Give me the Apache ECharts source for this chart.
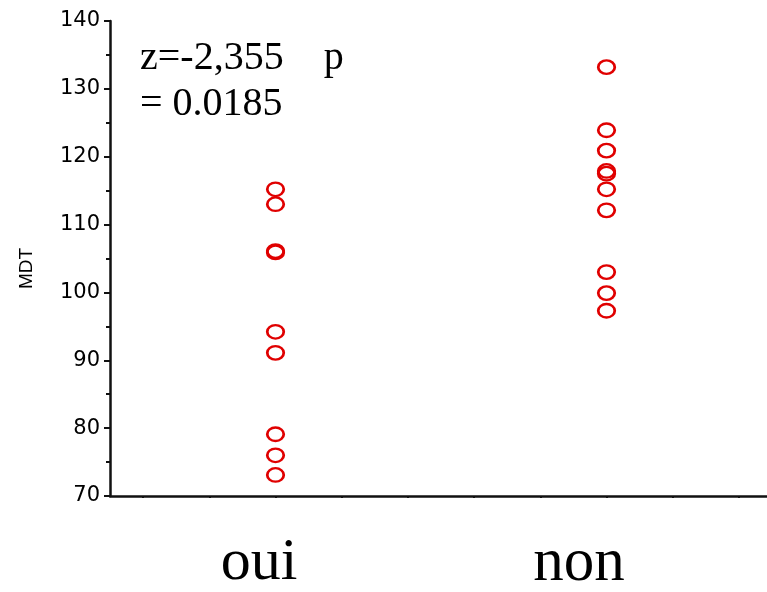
<!DOCTYPE html>
<html>
<head>
<meta charset="utf-8">
<script src="https://cdn.jsdelivr.net/npm/echarts@6/dist/echarts.min.js"></script>
<style>html,body{margin:0;padding:0;background:#fff;}#c{width:767px;height:592px;}</style>
</head>
<body>
<div id="c"></div>
<script>
// x axis slots (tick labels); groups sit in two of them
var xSlots = ['', '', 'oui', '', '', '', '', 'non', '', ''];
var groups = ['oui', 'non'];
var ouiValues = [115.2, 113.0, 105.9, 106.1, 94.2, 91.1, 79.1, 76.0, 73.1];
var nonValues = [133.2, 123.9, 120.9, 117.5, 117.9, 115.2, 112.1, 103.0, 99.9, 97.3];
var yTicks = [70, 80, 90, 100, 110, 120, 130, 140];
var statText = 'z=-2,355    p\n= 0.0185';

var chart = echarts.init(document.getElementById('c'), null, {renderer: 'canvas'});
var red = '#e00000';
function pts(g, vals) { return vals.map(function (v) { return [g, v]; }); }
chart.setOption({
  backgroundColor: '#fff',
  animation: false,
  title: {
    text: statText,
    left: 135, top: 30,
    textStyle: {fontFamily: 'Liberation Serif', fontSize: 40, fontWeight: 'normal', color: '#000', lineHeight: 46}
  },
  grid: {left: 110, right: -5, top: 21, bottom: 96, containLabel: false, outerBoundsMode: 'none'},
  xAxis: {
    type: 'category',
    data: xSlots,
    boundaryGap: true,
    axisLine: {lineStyle: {color: '#111', width: 2.5}},
    axisTick: {show: true, alignWithLabel: true, interval: 0, length: 2, lineStyle: {color: '#111', width: 2}},
    splitLine: {show: false},
    axisLabel: {
      interval: 0, margin: 37,
      formatter: function (v) { if (v === groups[0]) return '{a|' + v + '}'; if (v === groups[1]) return '{b|' + v + '}'; return ''; },
      rich: {
        a: {fontFamily: 'Liberation Serif', fontSize: 60, color: '#000', padding: [0, 33, 0, 0]},
        b: {fontFamily: 'Liberation Serif', fontSize: 61, color: '#000', padding: [0, 55, 0, 0]}
      }
    }
  },
  yAxis: {
    type: 'value',
    min: yTicks[0], max: yTicks[yTicks.length - 1], interval: 10,
    name: 'MDT', nameLocation: 'middle', nameGap: 74, nameRotate: 90,
    nameTextStyle: {fontFamily: 'Liberation Sans', fontSize: 19, color: '#000', padding: [0, 20, 0, 0]},
    axisLine: {show: true, lineStyle: {color: '#111', width: 2.5}},
    axisTick: {show: true, length: 6, lineStyle: {color: '#111', width: 2}},
    minorTick: {show: true, splitNumber: 2, length: 4, lineStyle: {color: '#111', width: 2}},
    splitLine: {show: false},
    axisLabel: {fontFamily: 'DejaVu Sans', fontSize: 21, color: '#000', margin: 10}
  },
  series: [
    {type: 'scatter', name: groups[0], data: pts(groups[0], ouiValues), symbol: 'circle', symbolSize: [16.5, 13.5],
     itemStyle: {color: 'rgba(0,0,0,0)', borderColor: red, borderWidth: 2.5, opacity: 1}},
    {type: 'scatter', name: groups[1], data: pts(groups[1], nonValues), symbol: 'circle', symbolSize: [16.5, 13.5],
     itemStyle: {color: 'rgba(0,0,0,0)', borderColor: red, borderWidth: 2.5, opacity: 1}}
  ]
});
</script>
</body>
</html>
